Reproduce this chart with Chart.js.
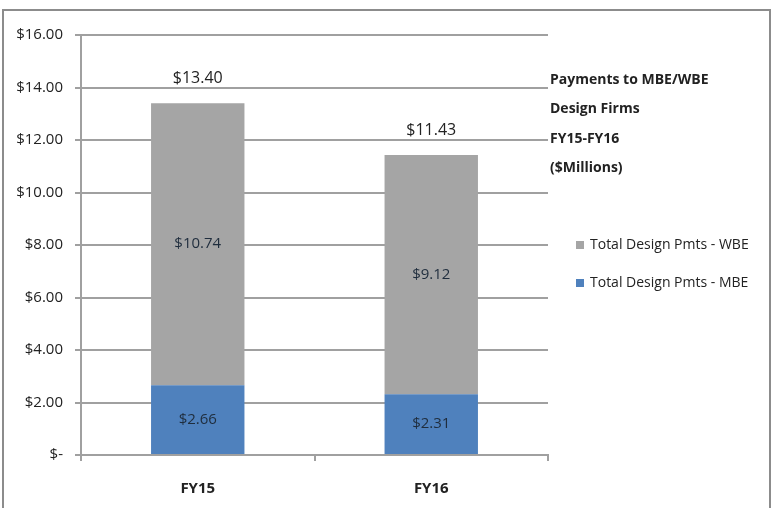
<!DOCTYPE html>
<html>
<head>
<meta charset="utf-8">
<script src="https://cdn.jsdelivr.net/npm/chart.js@4.4.0/dist/chart.umd.min.js"></script>
<style>
  html, body { margin: 0; padding: 0; background: #fff; }
  #wrap { width: 773px; height: 508px; position: relative; }
</style>
</head>
<body>
<div id="wrap"><canvas id="main" width="773" height="508"></canvas></div>
<script>
const categories = ["FY15", "FY16"];
const mbeValues = [2.66, 2.31];
const wbeValues = [10.74, 9.12];
const totalValues = [13.40, 11.43];
const titleLines = ["Payments to MBE/WBE", "Design Firms", "FY15-FY16", "($Millions)"];
const seriesNames = ["Total Design Pmts - MBE", "Total Design Pmts - WBE"];

const BLUE = "#4f81bd";
const GRAY = "#a5a5a5";
const FONT = "'Open Sans', sans-serif";

function money(v) {
    return v === 0 ? "$-" : "$" + v.toFixed(2);
}

const extras = {
    id: "extras",
    afterDatasetsDraw(chart) {
        const ctx = chart.ctx;
        ctx.save();
        // segment labels
        ctx.font = "15px " + FONT;
        ctx.fillStyle = "#1f2d3d";
        ctx.textAlign = "center";
        ctx.textBaseline = "middle";
        chart.data.datasets.forEach((ds, di) => {
            const meta = chart.getDatasetMeta(di);
            meta.data.forEach((bar, i) => {
                const mid = (bar.y + bar.base) / 2;
                ctx.fillText(money(ds.data[i]), bar.x, mid);
            });
        });
        // totals above bars
        ctx.fillStyle = "#222";
        ctx.font = "16px " + FONT;
        const ys = chart.scales.y;
        const xs = chart.scales.x;
        totalValues.forEach((t, i) => {
            ctx.fillText(money(t), xs.getPixelForValue(i), ys.getPixelForValue(t) - 25);
        });
        // title block
        ctx.textAlign = "left";
        ctx.font = "bold 14px " + FONT;
        ctx.fillStyle = "#222";
        titleLines.forEach((line, i) => {
            ctx.fillText(line, 550, 80 + i * 29.5);
        });
        // legend (WBE on top)
        ctx.font = "14px " + FONT;
        const legend = [
            { name: seriesNames[1], color: GRAY, y: 245 },
            { name: seriesNames[0], color: BLUE, y: 283 }
        ];
        legend.forEach(item => {
            ctx.fillStyle = item.color;
            ctx.fillRect(576, item.y - 4, 8, 8);
            ctx.fillStyle = "#222";
            ctx.fillText(item.name, 590, item.y);
        });
        // outer border
        ctx.strokeStyle = "#8c8c8c";
        ctx.lineWidth = 2;
        ctx.strokeRect(3, 10, 767, 520);
        ctx.restore();
    }
};

new Chart(document.getElementById("main"), {
    type: "bar",
    data: {
        labels: categories,
        datasets: [
            { label: seriesNames[0], data: mbeValues, backgroundColor: BLUE },
            { label: seriesNames[1], data: wbeValues, backgroundColor: GRAY }
        ]
    },
    options: {
        responsive: false,
        animation: false,
        devicePixelRatio: 1,
        layout: { padding: { left: 0, right: 225, top: 35, bottom: 0 } },
        plugins: {
            legend: { display: false },
            tooltip: { enabled: false }
        },
        datasets: { bar: { categoryPercentage: 0.4, barPercentage: 1 } },
        scales: {
            x: {
                stacked: true,
                grid: { display: true, drawOnChartArea: false, offset: true, color: "#a0a0a0", lineWidth: 2, tickLength: 6 },
                border: { display: true, color: "#a0a0a0", width: 2 },
                ticks: { color: "#222", font: { family: FONT, size: 15, weight: "bold" }, padding: 19 },
                afterFit(scale) { scale.height = 53; }
            },
            y: {
                stacked: true,
                min: 0,
                max: 16,
                ticks: { stepSize: 2, callback: v => money(v), color: "#222", font: { family: FONT, size: 15 }, padding: 12 },
                grid: { color: "#a0a0a0", lineWidth: 2, tickLength: 6 },
                border: { display: true, color: "#a0a0a0", width: 2 },
                afterFit(scale) { scale.width = 81; }
            }
        }
    },
    plugins: [extras]
});
</script>
</body>
</html>
